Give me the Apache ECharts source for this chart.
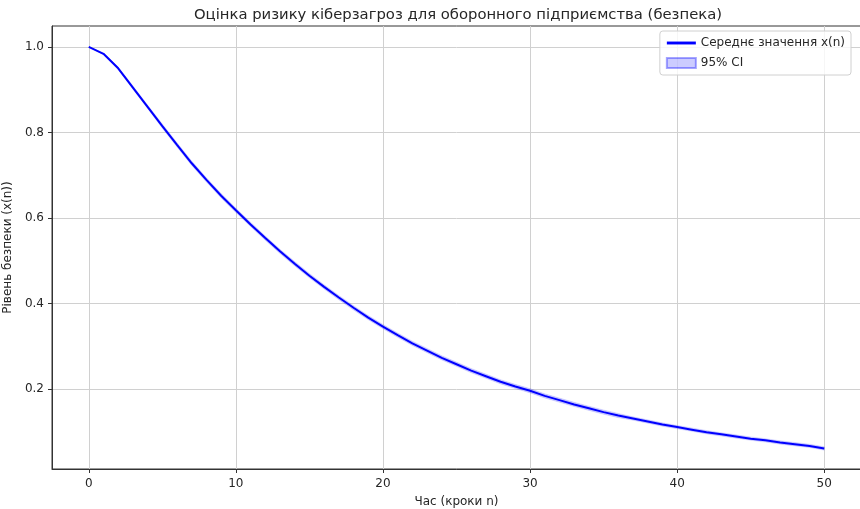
<!DOCTYPE html>
<html>
<head>
<meta charset="utf-8">
<script src="https://cdn.jsdelivr.net/npm/echarts@6/dist/echarts.min.js"></script>
<style>
  html, body { margin: 0; padding: 0; background: #fff; }
  #main { width: 860px; height: 509px; }
</style>
</head>
<body>
<div id="main"></div>
<script>
// кроки n
var steps = [];
for (var i = 0; i <= 50; i++) steps.push(i);

// середнє значення x(n)
var meanValues = [
  1.000, 0.984, 0.950, 0.905, 0.860, 0.815, 0.771, 0.728, 0.689, 0.652,
  0.618, 0.585, 0.553, 0.522, 0.493, 0.465, 0.439, 0.414, 0.390, 0.367,
  0.346, 0.326, 0.307, 0.290, 0.273, 0.258, 0.243, 0.230, 0.217, 0.206,
  0.196, 0.184, 0.174, 0.164, 0.155, 0.146, 0.138, 0.131, 0.124, 0.117,
  0.111, 0.105, 0.099, 0.094, 0.089, 0.084, 0.080, 0.075, 0.071, 0.067,
  0.061
];

// напівширина 95% довірчого інтервалу
var ciHalf = [
  0.000, 0.002, 0.003, 0.004, 0.004, 0.005, 0.005, 0.005, 0.005, 0.005,
  0.005, 0.005, 0.005, 0.005, 0.005, 0.005, 0.005, 0.005, 0.005, 0.005,
  0.005, 0.005, 0.005, 0.005, 0.005, 0.005, 0.005, 0.005, 0.005, 0.005,
  0.005, 0.005, 0.005, 0.005, 0.005, 0.005, 0.005, 0.004, 0.004, 0.004,
  0.004, 0.004, 0.004, 0.004, 0.004, 0.004, 0.004, 0.004, 0.004, 0.004,
  0.004
];

var xTicks = [0, 10, 20, 30, 40, 50];
var yTicks = [0.2, 0.4, 0.6, 0.8, 1.0];

var meanData = [], bandData = [];
steps.forEach(function (n, i) {
  meanData.push([n, meanValues[i]]);
  bandData.push([n, meanValues[i] - ciHalf[i], meanValues[i] + ciHalf[i]]);
});

var font = 'DejaVu Sans';
var txt = '#262626';
var myChart = echarts.init(document.getElementById('main'));
myChart.setOption({
  animation: false,
  backgroundColor: '#fff',
  title: {
    text: 'Оцінка ризику кіберзагроз для оборонного підприємства (безпека)',
    left: 453,
    textAlign: 'center',
    top: 3,
    textStyle: { fontFamily: font, fontSize: 14.8, fontWeight: 'normal', color: txt }
  },
  legend: {
    data: [
      { name: 'Середнє значення x(n)', icon: 'path://M0,0H30V3H0Z' },
      { name: '95% CI', icon: 'rect' }
    ],
    orient: 'vertical',
    right: 9,
    top: 31,
    itemWidth: 29,
    itemHeight: 10,
    itemGap: 8,
    padding: [6, 6, 6, 6],
    borderColor: '#d0d0d0',
    borderWidth: 1,
    borderRadius: 3,
    backgroundColor: 'rgba(255,255,255,0.8)',
    textStyle: { fontFamily: font, fontSize: 12, color: txt }
  },
  grid: {
    left: 52,
    right: -1,
    top: 26,
    bottom: 40,
    outerBoundsMode: 'none',
    containLabel: false,
    show: true,
    borderColor: '#333',
    borderWidth: 1
  },
  xAxis: {
    type: 'value',
    min: -2.5,
    max: 52.5,
    name: 'Час (кроки n)',
    nameLocation: 'middle',
    nameGap: 27,
    nameTextStyle: { fontFamily: font, fontSize: 12, color: txt },
    axisLine: { show: true, onZero: false, lineStyle: { color: '#333' } },
    axisTick: { show: true, length: 4, customValues: xTicks, lineStyle: { color: '#333' } },
    axisLabel: { customValues: xTicks, fontFamily: font, fontSize: 12, color: txt, margin: 9 },
    splitLine: { show: true, lineStyle: { color: '#d0d0d0', width: 1 } }
  },
  yAxis: {
    type: 'value',
    min: 0.013,
    max: 1.049,
    name: 'Рівень безпеки (x(n))',
    nameLocation: 'middle',
    nameGap: 29,
    nameTextStyle: { fontFamily: font, fontSize: 12, color: txt },
    axisLine: { show: true, onZero: false, lineStyle: { color: '#333' } },
    axisTick: { show: true, length: 4, customValues: yTicks, lineStyle: { color: '#333' } },
    axisLabel: {
      customValues: yTicks, fontFamily: font, fontSize: 12, color: txt, margin: 8,
      formatter: function (v) { return v.toFixed(1); }
    },
    splitLine: { show: true, lineStyle: { color: '#d0d0d0', width: 1 } }
  },
  series: [
    {
      name: '95% CI',
      type: 'custom',
      data: bandData,
      encode: { x: 0, y: [1, 2] },
      itemStyle: { color: 'rgba(0,0,255,0.2)', borderColor: 'rgba(0,0,255,0.35)', borderWidth: 1 },
      silent: true,
      renderItem: function (params, api) {
        if (params.dataIndex !== 0) return;
        var upper = [], lower = [];
        bandData.forEach(function (d) {
          upper.push(api.coord([d[0], d[2]]));
          lower.push(api.coord([d[0], d[1]]));
        });
        return {
          type: 'polygon',
          shape: { points: upper.concat(lower.reverse()) },
          style: { fill: 'rgba(0,0,255,0.2)', stroke: 'rgba(0,0,255,0.2)', lineWidth: 0.5 }
        };
      }
    },
    {
      name: 'Середнє значення x(n)',
      type: 'line',
      data: meanData,
      symbol: 'none',
      color: '#0000ff',
      lineStyle: { color: '#0000ff', width: 2 },
      z: 5
    }
  ]
});
</script>
</body>
</html>
